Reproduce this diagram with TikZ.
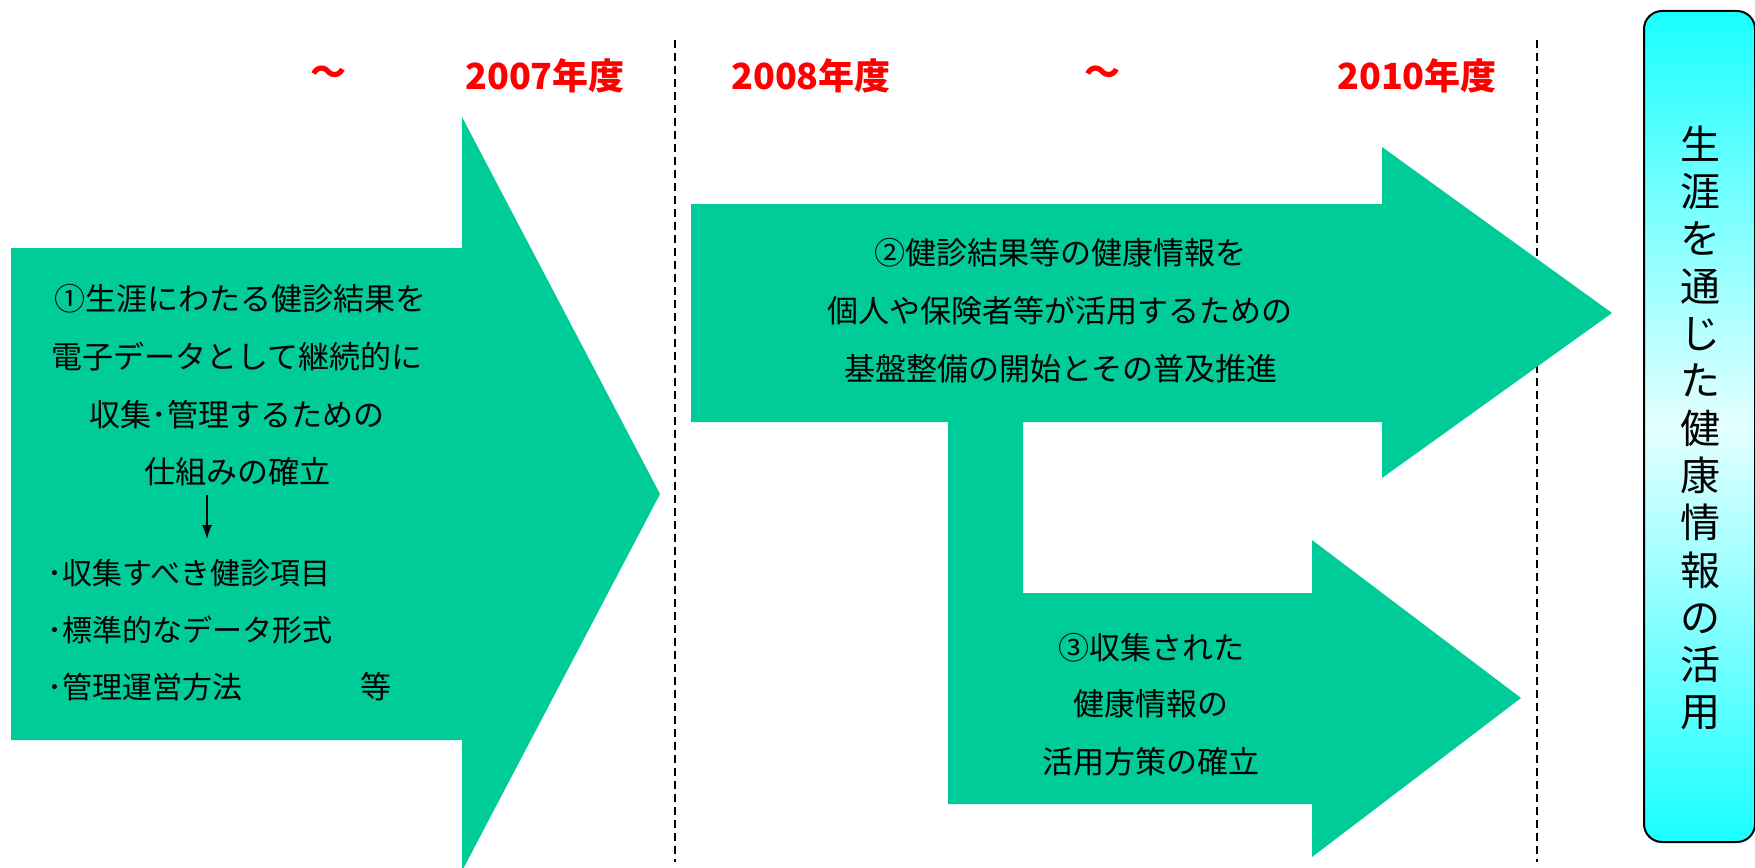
\documentclass[tikz,border=0pt]{standalone}
\usepackage{fontspec}
\setmainfont{Noto Sans CJK JP}
\usetikzlibrary{arrows.meta}
\definecolor{arrowgreen}{RGB}{0,204,153}
\definecolor{boxcyan}{RGB}{25,255,255}
\definecolor{boxpale}{RGB}{228,255,255}
\begin{document}
\begin{tikzpicture}[x=1pt,y=-1pt,
  bigarrow/.style={fill=arrowgreen, draw=none},
  bodytext/.style={font=\fontsize{31}{37}\selectfont, inner sep=0pt, anchor=center},
  bullettext/.style={font=\fontsize{30}{36}\selectfont, inner sep=0pt, anchor=west},
  yeartext/.style={font=\fontsize{36}{40}\selectfont\bfseries, text=red, inner sep=0pt},
  divider/.style={black, line width=1.2pt, dash pattern=on 8pt off 5pt},
  goalbox/.style={draw=black, line width=2pt, rounded corners=18pt,
    top color=boxcyan, bottom color=boxcyan, middle color=boxpale},
  goaltext/.style={font=\fontsize{40}{47.3}\selectfont, align=center, inner sep=0pt}
]
\useasboundingbox (0,0) rectangle (1755,867);
\clip (0,0) rectangle (1755,867);

% dashed dividers
\coordinate (d1t) at (675,40);
\coordinate (d1b) at (675,862);
\coordinate (d2t) at (1537,40);
\coordinate (d2b) at (1537,862);
\draw[divider] (d1t) -- (d1b);
\draw[divider] (d2t) -- (d2b);

% arrow 1
\fill[bigarrow] (11,248) -- (462,248) -- (462,117) -- (660,494) -- (462,871) -- (462,740) -- (11,740) -- cycle;

% arrows 2 and 3 (one shape)
\fill[bigarrow] (691,204) -- (1382,204) -- (1382,147) -- (1612,313) -- (1382,478) -- (1382,422)
  -- (1023,422) -- (1023,593) -- (1312,593) -- (1312,540) -- (1521,698) -- (1312,857)
  -- (1312,804) -- (948,804) -- (948,422) -- (691,422) -- cycle;

% year labels
\node[yeartext] (t1) at (328,76) {～};
\node[yeartext] (y2007) at (545,76) {2007年度};
\node[yeartext] (y2008) at (811,76) {2008年度};
\node[yeartext] (t2) at (1102,76) {～};
\node[yeartext] (y2010) at (1417,76) {2010年度};

% arrow 1 text
\node[bodytext] (a1l1) at (240,299) {①生涯にわたる健診結果を};
\node[bodytext] (a1l2) at (237,357) {電子データとして継続的に};
\node[bodytext] (a1l3) at (237,415) {収集･管理するための};
\node[bodytext] (a1l4) at (237,472) {仕組みの確立};
\coordinate (subs) at (207,495);
\coordinate (sube) at (207,539);
\draw[line width=1.3pt, -{Latex[length=14pt,width=10pt]}] (subs) -- (sube);
\node[bullettext] (b1) at (47,573) {･収集すべき健診項目};
\node[bullettext] (b2) at (47,630) {･標準的なデータ形式};
\node[bullettext] (b3) at (47,687) {･管理運営方法};
\node[bodytext] (b3etc) at (376,687) {等};

% arrow 2 text
\node[bodytext] (a2l1) at (1060,253) {②健診結果等の健康情報を};
\node[bodytext] (a2l2) at (1060,311) {個人や保険者等が活用するための};
\node[bodytext] (a2l3) at (1061,369) {基盤整備の開始とその普及推進};

% arrow 3 text
\node[bodytext] (a3l1) at (1151,648) {③収集された};
\node[bodytext] (a3l2) at (1151,704) {健康情報の};
\node[bodytext] (a3l3) at (1151,762) {活用方策の確立};

% goal box
\shade[goalbox] (1644,11) rectangle (1755,842);
\node[goaltext] (goal) at (1700,428) {生\\涯\\を\\通\\じ\\た\\健\\康\\情\\報\\の\\活\\用};
\end{tikzpicture}
\end{document}
